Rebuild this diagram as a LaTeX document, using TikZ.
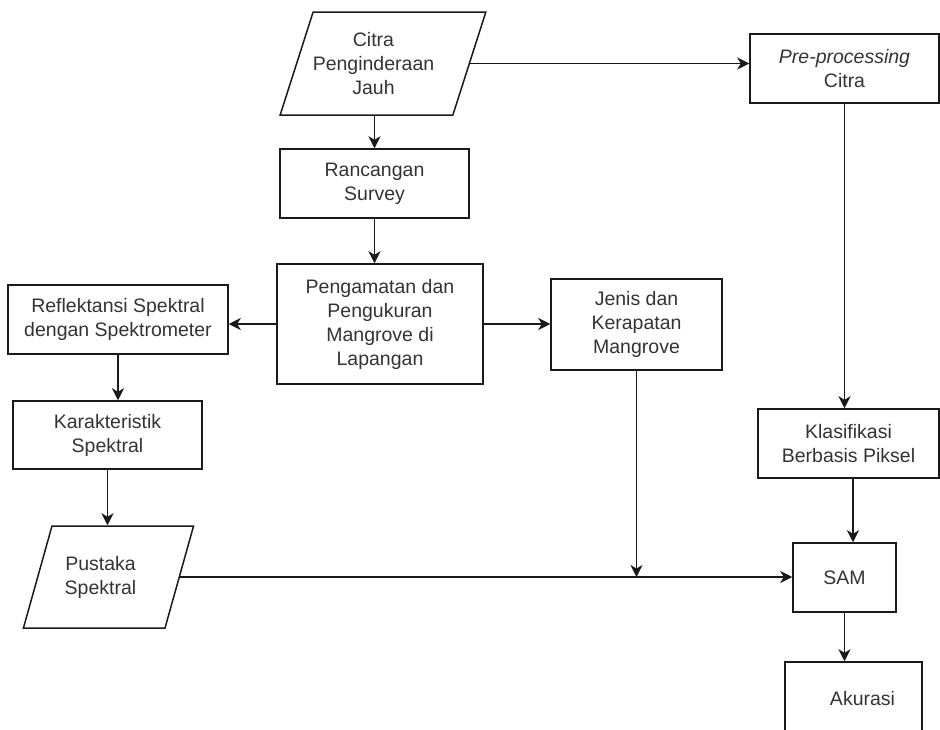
\documentclass[tikz,border=0pt]{standalone}
\usepackage{fontspec}
\setmainfont{Liberation Sans}
\usetikzlibrary{shapes.geometric,arrows.meta}
\definecolor{txt}{HTML}{333333}
\definecolor{lncol}{HTML}{1A1A1A}
\begin{document}
\begin{tikzpicture}[x=1pt,y=-1pt,
  box/.style={draw=lncol, line width=1.5pt, rectangle, inner sep=0pt, align=center,
    text=txt, font=\fontsize{19.5}{24}\selectfont},
  para/.style={box, trapezium, trapezium stretches=true},
  arr/.style={draw=lncol, line width=1.5pt, -{Stealth[length=12pt,width=12pt,inset=3.5pt]}}]
\useasboundingbox (0,0) rectangle (940,729);
\clip (0,0) rectangle (940,729);

\node[para, trapezium left angle=68.8, trapezium right angle=111.2,
  minimum width=206pt, minimum height=103pt] (citra) at (383,63.5)
  {\hspace*{-19pt}Citra\\\hspace*{-19pt}Penginderaan\\\hspace*{-19pt}Jauh};
\node[box, minimum width=189pt, minimum height=69pt] (pre) at (844.5,68.5)
  {\textit{Pre-processing}\\Citra};
\node[box, minimum width=189pt, minimum height=69pt] (ranc) at (374.5,183.5)
  {Rancangan\\Survey};
\node[box, minimum width=206pt, minimum height=120pt] (peng) at (380,324)
  {Pengamatan dan\\Pengukuran\\Mangrove di\\Lapangan};
\node[box, minimum width=220pt, minimum height=69pt] (refl) at (118,319.5)
  {Reflektansi Spektral\\dengan Spektrometer};
\node[box, minimum width=189pt, minimum height=68pt] (kar) at (107.5,435)
  {Karakteristik\\Spektral};
\node[para, trapezium left angle=71.6, trapezium right angle=108.4,
  minimum width=171pt, minimum height=102pt] (pust) at (108.5,577)
  {\hspace*{-16pt}Pustaka\\\hspace*{-16pt}Spektral};
\node[box, minimum width=171pt, minimum height=91pt] (jenis) at (636.5,324.5)
  {Jenis dan\\Kerapatan\\Mangrove};
\node[box, minimum width=181pt, minimum height=69pt] (klas) at (848.5,443.5)
  {Klasifikasi\\Berbasis Piksel};
\node[box, minimum width=103pt, minimum height=69pt] (sam) at (844.5,577.5)
  {SAM};
\node[box, minimum width=137pt, minimum height=73pt] (akur) at (853.5,698.5)
  {\hspace*{18pt}Akurasi};

\draw[arr] (citra.east) -- (citra.east -| pre.west);
\draw[arr] (ranc.north |- citra.south) -- (ranc.north);
\draw[arr] (ranc.south) -- (ranc.south |- peng.north);
\draw[arr] (peng.west) -- (peng.west -| refl.east);
\draw[arr] (peng.east) -- (peng.east -| jenis.west);
\draw[arr] (refl.south) -- (refl.south |- kar.north);
\draw[arr] (kar.south) -- (kar.south |- pust.north);
\draw[arr] (pust.east) -- (pust.east -| sam.west);
\draw[arr] (jenis.south) -- (jenis.south |- pust.east);
\draw[arr] (pre.south) -- (pre.south |- klas.north);
\draw[arr] ([xshift=4.5pt]klas.south) -- ([xshift=4.5pt]klas.south |- sam.north);
\draw[arr] (sam.south) -- (sam.south |- akur.north);
\end{tikzpicture}
\end{document}
